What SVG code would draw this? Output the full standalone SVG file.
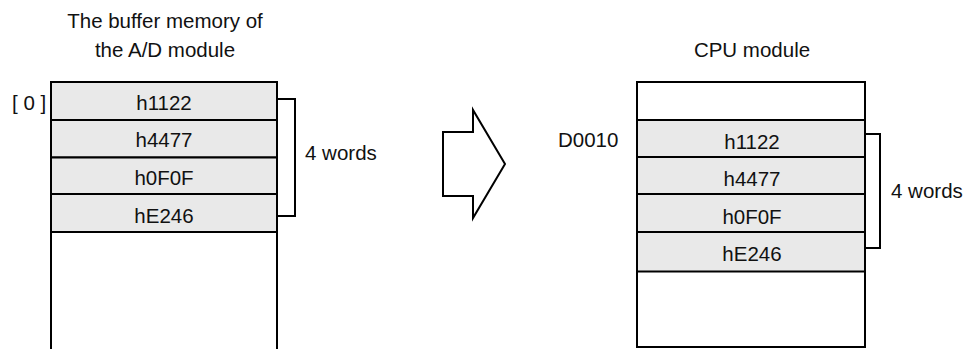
<svg xmlns="http://www.w3.org/2000/svg" width="972" height="349" viewBox="0 0 972 349">
<style>
text{font-family:"Liberation Sans",Arial,sans-serif;font-size:20.5px;fill:#111}
.c{text-anchor:middle}
.row{fill:#e9e9e9;stroke:#000;stroke-width:2}
.blank{fill:#fff;stroke:#000;stroke-width:2}
.ln{fill:none;stroke:#000;stroke-width:2}
</style>
<rect width="972" height="349" fill="#fff"/>
<g id="left-title">
<text class="c" x="165" y="28">The buffer memory of</text>
<text class="c" x="165" y="57">the A/D module</text>
</g>
<g id="left-memory">
<path class="ln" d="M51,82 V350 M277,82 V350"/>
<rect class="row" x="51" y="82" width="226" height="38"/>
<rect class="row" x="51" y="120" width="226" height="37.5"/>
<rect class="row" x="51" y="157.5" width="226" height="36.5"/>
<rect class="row" x="51" y="194" width="226" height="38"/>
<text class="c" x="164" y="110">h1122</text>
<text class="c" x="164" y="147">h4477</text>
<text class="c" x="164" y="185">h0F0F</text>
<text class="c" x="164" y="223">hE246</text>
<text x="12" y="110">[ 0 ]</text>
</g>
<g id="arrow">
<path class="ln" fill="#fff" d="M443,132 L473,132 L473,110 L505,164 L473,218 L473,196 L443,196 Z"/>
</g>
<g id="right-title">
<text class="c" x="752" y="57">CPU module</text>
</g>
<g id="right-memory">
<rect class="blank" x="637" y="82" width="228" height="265"/>
<rect class="row" x="637" y="120" width="228" height="37"/>
<rect class="row" x="637" y="157" width="228" height="37"/>
<rect class="row" x="637" y="194" width="228" height="38"/>
<rect class="row" x="637" y="232" width="228" height="39.5"/>
<text class="c" x="752" y="149">h1122</text>
<text class="c" x="752" y="186">h4477</text>
<text class="c" x="752" y="224">h0F0F</text>
<text class="c" x="752" y="261">hE246</text>
<text x="558" y="147">D0010</text>
</g>
<g id="connectors">
<path class="ln" d="M277,99 H295 V216 H277"/>
<path class="ln" d="M865,134 H880 V248 H865"/>
</g>
<g id="labels">
<text x="305" y="160">4 words</text>
<text x="891" y="198">4 words</text>
</g>
</svg>
